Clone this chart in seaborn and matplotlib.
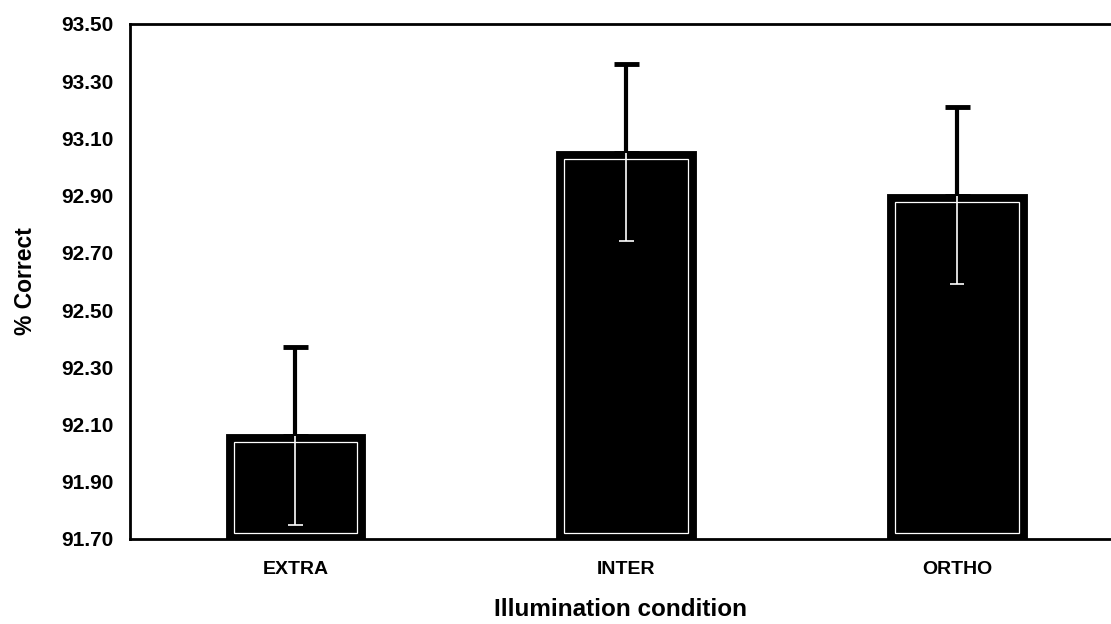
import matplotlib
matplotlib.use("Agg")
import matplotlib.pyplot as plt
import seaborn as sns
import pandas as pd
import numpy as np

categories = ["EXTRA", "INTER", "ORTHO"]
means = [92.06, 93.05, 92.90]
errors = [0.31, 0.31, 0.31]
yticks = [91.70, 91.90, 92.10, 92.30, 92.50, 92.70, 92.90, 93.10, 93.30, 93.50]

sns.set_theme(style="white")
plt.rcParams['font.family'] = ['Liberation Sans', 'DejaVu Sans']
plt.rcParams['text.color'] = 'black'
plt.rcParams['axes.labelcolor'] = 'black'
plt.rcParams['xtick.color'] = 'black'
plt.rcParams['ytick.color'] = 'black'

df = pd.DataFrame({"cond": categories, "pct": means})

fig = plt.figure(figsize=(11.11, 6.24), dpi=100)
ax = fig.add_axes([130/1111, 85/624, 992.5/1111, 515/624])

bar_w = 0.41
sns.barplot(data=df, x="cond", y="pct", order=categories, color="black",
            width=bar_w, edgecolor="black", linewidth=3.5, errorbar=None,
            saturation=1, ax=ax)

ax.set_ylim(yticks[0], yticks[-1])
ax.set_xlim(-0.5, 2.5)

x = np.arange(len(categories))
ymin = yticks[0]
# inner white outline (inset)
dx = 0.036
dy = 0.021
ax.bar(x, [m - ymin - 2 * dy for m in means], bottom=ymin + dy, width=bar_w - dx,
       fill=False, edgecolor="white", linewidth=0.9, zorder=3)

# error bars: upper black, lower white (inside bar)
ax.errorbar(x, means, yerr=[[0] * 3, errors], fmt="none", ecolor="black",
            elinewidth=3, capsize=9, capthick=3.5, zorder=4)
lows = [m - e for m, e in zip(means, errors)]
ax.vlines(x, lows, means, colors="white", linewidth=1.2, zorder=4)
ax.hlines(lows, x - 0.022, x + 0.022, colors="white", linewidth=1.2, zorder=4)

ax.set_yticks(yticks)
ax.set_yticklabels([f"{t:.2f}" for t in yticks], fontsize=15, fontweight="bold")
ax.set_xticks(x)
ax.set_xticklabels(categories, fontsize=14, fontweight="bold")
ax.tick_params(axis="y", length=0, pad=12)
ax.tick_params(axis="x", length=0, pad=16)

ax.set_ylabel("% Correct", fontsize=16.5, fontweight="heavy", labelpad=17)
ax.set_xlabel("Illumination condition", fontsize=17.5, fontweight="heavy")
ax.xaxis.set_label_coords((621 - 130) / 992.5, -0.115)

for s in ["left", "top", "bottom", "right"]:
    ax.spines[s].set_color("black")
    ax.spines[s].set_linewidth(2)
ax.grid(False)

fig.savefig("out.png", dpi=100, facecolor="white")
